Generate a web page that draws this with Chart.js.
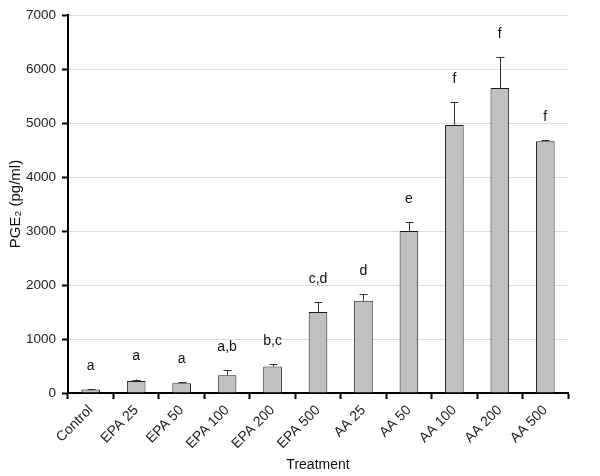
<!DOCTYPE html>
<html>
<head>
<meta charset="utf-8">
<script src="https://cdn.jsdelivr.net/npm/chart.js@4/dist/chart.umd.min.js"></script>
<style>
html,body{margin:0;padding:0;background:#fff;}
#wrap{width:600px;height:476px;position:relative;}
</style>
</head>
<body>
<div id="wrap"><canvas id="c" width="600" height="476"></canvas></div>
<script>
const categories = ['Control','EPA 25','EPA 50','EPA 100','EPA 200','EPA 500','AA 25','AA 50','AA 100','AA 200','AA 500'];
const means = [65, 220, 180, 330, 490, 1500, 1710, 3000, 4965, 5650, 4660];
const errors = [10, 30, 20, 95, 50, 180, 125, 160, 425, 565, 30];
const letters = ['a','a','a','a,b','b,c','c,d','d','e','f','f','f'];
const yTicks = [0,1000,2000,3000,4000,5000,6000,7000];

const FONT = "'Liberation Sans', Arial, sans-serif";

const errPlugin = {
  id: 'errbars',
  afterDatasetsDraw(chart) {
    const ctx = chart.ctx;
    const meta = chart.getDatasetMeta(0);
    const y = chart.scales.y;
    ctx.save();
    meta.data.forEach((bar, i) => {
      const x = bar.x;
      const yTop = y.getPixelForValue(means[i] + errors[i]);
      const yBase = bar.y;
      ctx.strokeStyle = '#333';
      ctx.lineWidth = 1;
      ctx.beginPath();
      ctx.moveTo(Math.round(x) + 0.5, yBase);
      ctx.lineTo(Math.round(x) + 0.5, yTop);
      ctx.moveTo(Math.round(x) - 3.5, Math.round(yTop) + 0.5);
      ctx.lineTo(Math.round(x) + 4.5, Math.round(yTop) + 0.5);
      ctx.stroke();
      ctx.fillStyle = '#111';
      ctx.font = '14px ' + FONT;
      ctx.textAlign = 'center';
      ctx.textBaseline = 'middle';
      ctx.fillText(letters[i], x, yTop - 23);
    });
    ctx.restore();
  }
};

new Chart(document.getElementById('c'), {
  type: 'bar',
  data: {
    labels: categories,
    datasets: [{
      data: means,
      backgroundColor: '#c0c0c0',
      borderColor: '#1a1a1a',
      borderWidth: 1,
      categoryPercentage: 1.0,
      barPercentage: 0.41
    }]
  },
  options: {
    responsive: false,
    animation: false,
    devicePixelRatio: 1,
    layout: { padding: { top: 15, right: 32, left: 0, bottom: 0 } },
    plugins: { legend: { display: false }, tooltip: { enabled: false } },
    scales: {
      x: {
        offset: true,
        grid: { display: true, offset: true, drawOnChartArea: false, drawTicks: true, tickLength: 6, tickColor: '#000', tickWidth: 2 },
        border: { display: true, color: '#000', width: 2 },
        ticks: { color: '#222', font: { family: FONT, size: 14 }, maxRotation: 45, minRotation: 45, padding: 3 },
        title: { display: true, text: 'Treatment', color: '#111', font: { family: FONT, size: 14 }, padding: { top: 0, bottom: 2 } },
        afterFit(s) { s.height = 83; }
      },
      y: {
        min: 0, max: 7000,
        afterBuildTicks(s) { s.ticks = yTicks.map(v => ({ value: v })); },
        grid: { color: '#dddddd', lineWidth: 1, drawTicks: true, tickLength: 6, tickColor: '#000', tickWidth: 2 },
        border: { display: true, color: '#000', width: 2 },
        ticks: { color: '#222', font: { family: FONT, size: 13.5 }, padding: 6, callback: v => String(v) },
        title: { display: true, text: 'PGE\u2082 (pg/ml)', color: '#111', font: { family: FONT, size: 15 }, padding: { top: 7, bottom: 0 } },
        afterFit(s) { s.width = 68; }
      }
    }
  },
  plugins: [errPlugin]
});
</script>
</body>
</html>
